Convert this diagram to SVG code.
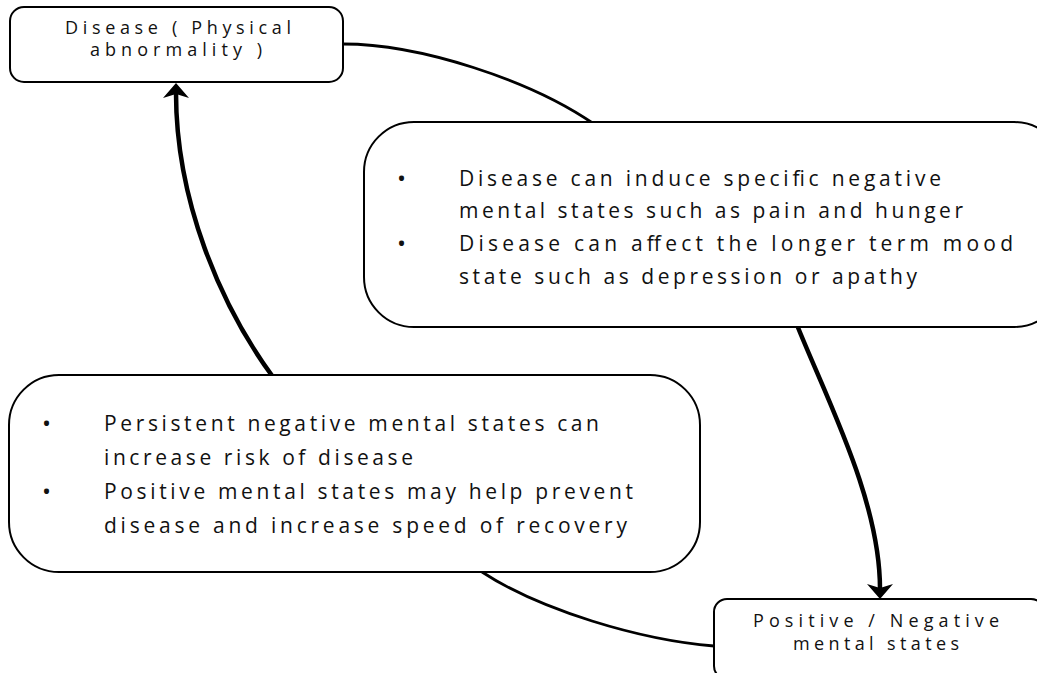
<svg xmlns="http://www.w3.org/2000/svg" width="1037" height="673" viewBox="0 0 1037 673">
<style>
.box{fill:#fff;stroke:#000;stroke-width:2}
.t{font-family:"Open Sans","Liberation Sans",sans-serif;fill:#111}
.c{font-size:18px;text-anchor:middle}
.b{font-size:21px}
.dot{font-size:24px}
.thin{fill:none;stroke:#000;stroke-width:2.8}
.thick{fill:none;stroke:#000;stroke-width:4.5}
</style>
<defs>
<marker id="arr" markerUnits="userSpaceOnUse" viewBox="-6 -14 17 28" refX="0" refY="0" markerWidth="17" markerHeight="28" orient="auto">
<path d="M10,0 L-5,-13 L-1,0 L-5,13 Z" fill="#000"/>
</marker>
</defs>
<g id="connectors">
<path class="thin" d="M343,44 C420,44 530,80 594,124"/>
<path class="thick" d="M797,325 C827,400 880,500 880,589" marker-end="url(#arr)"/>
<path class="thin" d="M714,646 C640,640 540,610 482,572"/>
<path class="thick" d="M273,377 C220,305 176,200 176,93" marker-end="url(#arr)"/>
</g>
<g id="disease">
<rect class="box" x="10" y="7" width="333" height="75" rx="14"/>
<text class="t c" x="178" y="34" textLength="226" lengthAdjust="spacing">Disease ( Physical</text>
<text class="t c" x="176" y="56" textLength="172" lengthAdjust="spacing">abnormality )</text>
</g>
<g id="effects">
<rect class="box" x="364" y="122" width="700" height="205" rx="50"/>
<text class="t dot" x="397" y="187">•</text>
<text class="t b" x="459" y="186" textLength="482" lengthAdjust="spacing">Disease can induce specific negative</text>
<text class="t b" x="459" y="218" textLength="504" lengthAdjust="spacing">mental states such as pain and hunger</text>
<text class="t dot" x="397" y="252">•</text>
<text class="t b" x="459" y="251" textLength="554" lengthAdjust="spacing">Disease can affect the longer term mood</text>
<text class="t b" x="459" y="284" textLength="458" lengthAdjust="spacing">state such as depression or apathy</text>
</g>
<g id="influence">
<rect class="box" x="9" y="375" width="691" height="197" rx="50"/>
<text class="t dot" x="42" y="432">•</text>
<text class="t b" x="104" y="431" textLength="495" lengthAdjust="spacing">Persistent negative mental states can</text>
<text class="t b" x="104" y="465" textLength="309" lengthAdjust="spacing">increase risk of disease</text>
<text class="t dot" x="42" y="500">•</text>
<text class="t b" x="104" y="499" textLength="529" lengthAdjust="spacing">Positive mental states may help prevent</text>
<text class="t b" x="104" y="533" textLength="523" lengthAdjust="spacing">disease and increase speed of recovery</text>
</g>
<g id="mental">
<rect class="box" x="714" y="599" width="330" height="80" rx="13"/>
<text class="t c" x="876" y="627" textLength="246" lengthAdjust="spacing">Positive / Negative</text>
<text class="t c" x="876" y="650" textLength="166" lengthAdjust="spacing">mental states</text>
</g>
</svg>
